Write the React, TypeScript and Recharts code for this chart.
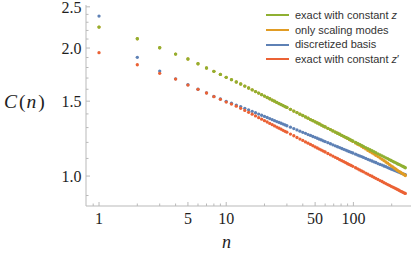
import React from 'react';
import { ScatterChart, Scatter, XAxis, YAxis, Legend } from 'recharts';

// n values (horizontal axis)
const nValues = [
  1, 2, 3, 4, 5, 6, 7, 8, 9, 10, 11, 12, 13, 14, 15, 16, 17, 18, 19, 20, 21, 22, 23, 24, 25, 26, 27, 28, 29, 30,
  32, 34, 36, 38, 40, 42, 44, 46, 48, 50, 52, 54, 56, 58, 60,
  63, 66, 69, 72, 75, 78, 81, 84, 87, 90, 93, 96, 99,
  104, 108, 112, 116, 120, 125, 130, 135, 140, 145, 150,
  156, 162, 168, 174, 180, 186, 192, 198, 204, 210, 216, 222, 228, 234, 240, 246, 252, 256,
];

// exact with constant z
const greenValues = [
  2.240, 2.103, 2.003, 1.936, 1.885, 1.837, 1.795, 1.763, 1.734, 1.707, 1.685, 1.664, 1.646, 1.628, 1.611, 1.595, 1.580, 1.567, 1.554, 1.542, 1.530, 1.520, 1.509, 1.500, 1.490, 1.481, 1.473, 1.465, 1.457, 1.450,
  1.435, 1.422, 1.410, 1.398, 1.388, 1.377, 1.368, 1.358, 1.350, 1.341, 1.333, 1.326, 1.318, 1.311, 1.305,
  1.295, 1.286, 1.277, 1.269, 1.261, 1.254, 1.246, 1.240, 1.233, 1.227, 1.221, 1.215, 1.209,
  1.200, 1.193, 1.187, 1.181, 1.174, 1.167, 1.160, 1.153, 1.147, 1.141, 1.135,
  1.128, 1.122, 1.116, 1.110, 1.104, 1.099, 1.093, 1.088, 1.083, 1.078, 1.074, 1.069, 1.065, 1.061, 1.057, 1.053, 1.049, 1.046,
];

// only scaling modes
const orangeValues = [
  2.240, 2.103, 2.003, 1.936, 1.885, 1.837, 1.795, 1.763, 1.734, 1.707, 1.685, 1.664, 1.646, 1.628, 1.611, 1.595, 1.580, 1.567, 1.554, 1.542, 1.530, 1.520, 1.509, 1.500, 1.490, 1.481, 1.473, 1.465, 1.457, 1.450,
  1.435, 1.422, 1.410, 1.398, 1.388, 1.377, 1.368, 1.358, 1.350, 1.341, 1.333, 1.326, 1.318, 1.311, 1.305,
  1.295, 1.286, 1.277, 1.269, 1.261, 1.254, 1.246, 1.239, 1.232, 1.226, 1.219, 1.213, 1.206,
  1.196, 1.188, 1.182, 1.174, 1.166, 1.158, 1.149, 1.141, 1.134, 1.127, 1.119,
  1.111, 1.103, 1.095, 1.087, 1.079, 1.072, 1.064, 1.057, 1.051, 1.044, 1.038, 1.031, 1.026, 1.021, 1.016, 1.011, 1.007, 1.003,
];

// discretized basis
const blueValues = [
  2.378, 1.902, 1.766, 1.693, 1.640, 1.600, 1.569, 1.539, 1.518, 1.499, 1.484, 1.469, 1.457, 1.443, 1.431, 1.420, 1.409, 1.399, 1.390, 1.381, 1.373, 1.365, 1.357, 1.350, 1.343, 1.337, 1.331, 1.325, 1.319, 1.313,
  1.303, 1.293, 1.284, 1.275, 1.267, 1.260, 1.252, 1.246, 1.239, 1.233, 1.227, 1.221, 1.216, 1.210, 1.205,
  1.198, 1.191, 1.184, 1.178, 1.172, 1.167, 1.161, 1.156, 1.151, 1.146, 1.141, 1.137, 1.133,
  1.126, 1.120, 1.115, 1.111, 1.106, 1.100, 1.095, 1.090, 1.085, 1.080, 1.076,
  1.070, 1.065, 1.061, 1.056, 1.052, 1.047, 1.043, 1.039, 1.035, 1.032, 1.028, 1.025, 1.021, 1.018, 1.015, 1.012, 1.009, 1.007,
];

// exact with constant z'
const redValues = [
  1.950, 1.827, 1.744, 1.691, 1.637, 1.599, 1.568, 1.537, 1.515, 1.493, 1.477, 1.460, 1.443, 1.427, 1.412, 1.398, 1.385, 1.372, 1.361, 1.350, 1.340, 1.330, 1.321, 1.312, 1.304, 1.296, 1.289, 1.281, 1.274, 1.268,
  1.255, 1.244, 1.232, 1.222, 1.213, 1.203, 1.195, 1.187, 1.179, 1.171, 1.164, 1.157, 1.151, 1.145, 1.139,
  1.130, 1.122, 1.114, 1.107, 1.100, 1.093, 1.087, 1.081, 1.075, 1.069, 1.064, 1.059, 1.054,
  1.046, 1.040, 1.034, 1.028, 1.023, 1.016, 1.010, 1.004, 0.999, 0.993, 0.988,
  0.982, 0.976, 0.971, 0.965, 0.960, 0.955, 0.951, 0.946, 0.942, 0.938, 0.934, 0.930, 0.926, 0.922, 0.919, 0.915, 0.912, 0.910,
];

const xMajorTicks = [1, 5, 10, 50, 100];
const xMinorTicks = [0.9, 2, 3, 4, 6, 7, 8, 9, 20, 30, 40, 60, 70, 80, 90, 200];
const yMajorTicks = [1.0, 1.5, 2.0, 2.5];
const yMinorTicks = [0.9, 1.1, 1.2, 1.3, 1.4, 1.6, 1.7, 1.8, 1.9, 2.1, 2.2, 2.3, 2.4];

const X_DOMAIN: [number, number] = [0.79, 283.7];
const Y_DOMAIN: [number, number] = [0.8503, 2.525];

const FRAME = '#b9b9b9';
const TEXT = '#1e1e1e';
const SERIF = '"Liberation Serif", "Times New Roman", serif';
const SANS = '"Liberation Sans", Arial, sans-serif';

const X_TICK_MARGIN = 7;
const Y_TICK_MARGIN = 4.5;
const MAJOR_LEN = 4;
const MINOR_LEN = 2.5;

const allXTicks = [...xMajorTicks, ...xMinorTicks].sort((a, b) => a - b);
const allYTicks = [...yMajorTicks, ...yMinorTicks].sort((a, b) => a - b);

const toPoints = (vals: number[]) => nValues.map((n, i) => ({ n, c: vals[i] }));

const series = [
  { key: 'blue', name: 'discretized basis', color: '#5E81B5', values: blueValues },
  { key: 'orange', name: 'only scaling modes', color: '#E19C24', values: orangeValues },
  { key: 'green', name: 'exact with constant z', color: '#8FB032', values: greenValues },
  { key: 'red', name: "exact with constant z'", color: '#EB6235', values: redValues },
];

const legendOrder = ['green', 'orange', 'blue', 'red'];
const legendLabels: Record<string, React.ReactNode> = {
  green: <>exact with constant <i>z</i></>,
  orange: 'only scaling modes',
  blue: 'discretized basis',
  red: <>exact with constant <i>z</i>′</>,
};

const makeDot = (color: string) => (props: any) => (
  <circle cx={props.cx} cy={props.cy} r={1.65} fill={color} />
);

const BottomTick = (props: any) => {
  const { x, y, payload } = props;
  const major = xMajorTicks.includes(payload.value);
  const axisY = y - X_TICK_MARGIN;
  return (
    <g>
      <line x1={x} x2={x} y1={axisY} y2={axisY - (major ? MAJOR_LEN : MINOR_LEN)} stroke={FRAME} />
      {major && (
        <text x={x} y={y} dy="0.71em" textAnchor="middle" fontFamily={SERIF} fontSize={16} fill={TEXT}>
          {String(payload.value)}
        </text>
      )}
    </g>
  );
};

const TopTick = (props: any) => {
  const { x, y, payload } = props;
  const major = xMajorTicks.includes(payload.value);
  return <line x1={x} x2={x} y1={y} y2={y + (major ? MAJOR_LEN : MINOR_LEN)} stroke={FRAME} />;
};

const LeftTick = (props: any) => {
  const { x, y, payload } = props;
  const major = yMajorTicks.includes(payload.value);
  const axisX = x + Y_TICK_MARGIN;
  return (
    <g>
      <line x1={axisX} x2={axisX + (major ? MAJOR_LEN : MINOR_LEN)} y1={y} y2={y} stroke={FRAME} />
      {major && (
        <text x={x} y={y} dy="0.36em" textAnchor="end" fontFamily={SERIF} fontSize={16} fill={TEXT}>
          {payload.value.toFixed(1)}
        </text>
      )}
    </g>
  );
};

const RightTick = (props: any) => {
  const { x, y, payload } = props;
  const major = yMajorTicks.includes(payload.value);
  return <line x1={x} x2={x - (major ? MAJOR_LEN : MINOR_LEN)} y1={y} y2={y} stroke={FRAME} />;
};

const YTitle = (props: any) => {
  const vb = props.viewBox || { x: 0, y: 5, width: 86, height: 201 };
  return (
    <text x={vb.x + 4} y={vb.y + vb.height / 2 + 2} fontFamily={SERIF} fontSize={19.5} fill={TEXT}>
      <tspan fontStyle="italic">C</tspan>
      <tspan dx={2}>(</tspan>
      <tspan fontStyle="italic" dx={1}>n</tspan>
      <tspan dx={2}>)</tspan>
    </text>
  );
};

const XTitle = (props: any) => {
  const vb = props.viewBox || { x: 86, y: 206, width: 325, height: 48 };
  return (
    <text x={vb.x + 140.5} y={vb.y + 42} textAnchor="middle" fontFamily={SERIF} fontStyle="italic" fontSize={18} fill={TEXT}>
      n
    </text>
  );
};

const LegendContent = () => (
  <div style={{ fontFamily: SANS, fontSize: 11, color: '#333', lineHeight: '14.7px' }}>
    {legendOrder.map((k) => {
      const s = series.find((d) => d.key === k)!;
      return (
        <div key={k} style={{ display: 'flex', alignItems: 'center', height: 14.7, whiteSpace: 'nowrap' }}>
          <span style={{ display: 'inline-block', width: 23, height: 2, background: s.color, marginRight: 6 }} />
          <span>{legendLabels[k]}</span>
        </div>
      );
    })}
  </div>
);

export default function App() {
  return (
    <div style={{ position: 'absolute', left: 0, top: 0, width: 415, height: 254, background: '#fff' }}>
      <ScatterChart width={415} height={254} margin={{ top: 5, right: 4, bottom: 0, left: 0 }}>
        <XAxis
          xAxisId={0}
          dataKey="n"
          type="number"
          scale="log"
          domain={X_DOMAIN}
          allowDataOverflow
          ticks={allXTicks}
          interval={0}
          height={48}
          tickSize={0}
          tickMargin={X_TICK_MARGIN}
          tickLine={false}
          axisLine={{ stroke: FRAME }}
          tick={(p: any) => <BottomTick {...p} />}
          label={{ content: (p: any) => <XTitle {...p} /> }}
        />
        <XAxis
          xAxisId="top"
          orientation="top"
          type="number"
          scale="log"
          domain={X_DOMAIN}
          allowDataOverflow
          ticks={allXTicks}
          interval={0}
          height={0}
          tickSize={0}
          tickMargin={0}
          tickLine={false}
          axisLine={{ stroke: FRAME }}
          tick={(p: any) => <TopTick {...p} />}
        />
        <YAxis
          yAxisId={0}
          dataKey="c"
          type="number"
          scale="log"
          domain={Y_DOMAIN}
          allowDataOverflow
          ticks={allYTicks}
          interval={0}
          width={86}
          tickSize={0}
          tickMargin={Y_TICK_MARGIN}
          tickLine={false}
          axisLine={{ stroke: FRAME }}
          tick={(p: any) => <LeftTick {...p} />}
          label={{ content: (p: any) => <YTitle {...p} /> }}
        />
        <YAxis
          yAxisId="right"
          orientation="right"
          type="number"
          scale="log"
          domain={Y_DOMAIN}
          allowDataOverflow
          ticks={allYTicks}
          interval={0}
          width={0}
          tickSize={0}
          tickMargin={0}
          tickLine={false}
          axisLine={{ stroke: FRAME }}
          tick={(p: any) => <RightTick {...p} />}
        />
        {series.map((s) => (
          <Scatter
            key={s.key}
            name={s.name}
            data={toPoints(s.values)}
            xAxisId={0}
            yAxisId={0}
            fill={s.color}
            shape={makeDot(s.color)}
            isAnimationActive={false}
          />
        ))}
        <Legend
          layout="vertical"
          align="center"
          verticalAlign="middle"
          wrapperStyle={{ left: 266, top: 8, width: 150, height: 60 }}
          content={() => <LegendContent />}
        />
      </ScatterChart>
    </div>
  );
}
